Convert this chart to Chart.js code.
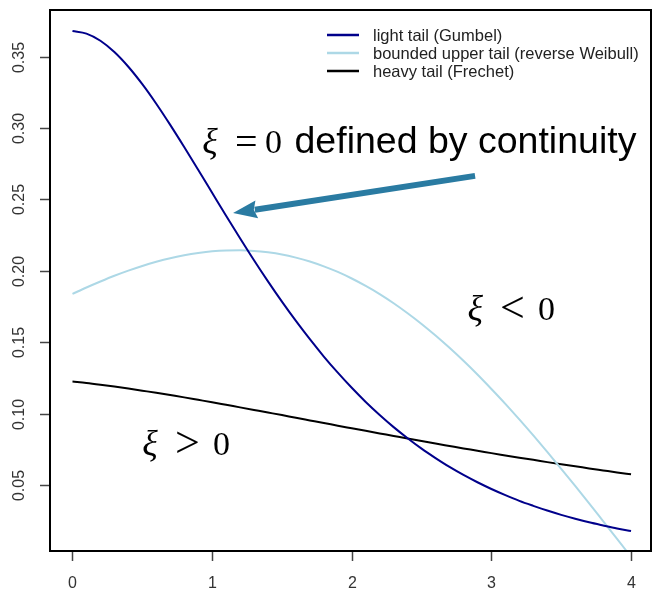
<!DOCTYPE html>
<html>
<head>
<meta charset="utf-8">
<script src="https://cdn.jsdelivr.net/npm/chart.js@4/dist/chart.umd.min.js"></script>
<style>
  html, body { margin: 0; padding: 0; background: #fff; overflow: hidden; }
  #wrap { width: 652px; height: 590px; }
</style>
</head>
<body>
<div id="wrap"><canvas id="c" width="652" height="590"></canvas></div>
<script>
// GEV densities evaluated on x = 0 .. 4
const xs = [0,0.1,0.2,0.3,0.4,0.5,0.6,0.7,0.8,0.9,1,1.1,1.2,1.3,1.4,1.5,1.6,1.7,1.8,1.9,2,
            2.1,2.2,2.3,2.4,2.5,2.6,2.7,2.8,2.9,3,3.1,3.2,3.3,3.4,3.5,3.6,3.7,3.8,3.9,4];

const gumbel = [0.3679,0.3661,0.3611,0.3532,0.3429,0.3307,0.3170,0.3022,0.2867,0.2708,0.2547,
                0.2386,0.2229,0.2075,0.1927,0.1785,0.1650,0.1522,0.1401,0.1288,0.1182,
                0.1083,0.0992,0.0907,0.0829,0.0756,0.0690,0.0628,0.0572,0.0521,0.0474,
                0.0431,0.0391,0.0356,0.0323,0.0293,0.0266,0.0241,0.0219,0.0198,0.0180];

const reverseWeibull = [0.1839,0.1884,0.1926,0.1966,0.2002,0.2035,0.2064,0.2089,0.2109,0.2125,0.2137,
                        0.2143,0.2144,0.2140,0.2130,0.2115,0.2093,0.2066,0.2032,0.1993,0.1947,
                        0.1895,0.1838,0.1774,0.1704,0.1629,0.1548,0.1462,0.1371,0.1275,0.1174,
                        0.1070,0.0961,0.0849,0.0733,0.0615,0.0495,0.0373,0.0249,0.0125,0.0000];

const frechet = [0.1226,0.1216,0.1204,0.1191,0.1177,0.1162,0.1147,0.1131,0.1115,0.1098,0.1081,
                 0.1063,0.1045,0.1027,0.1009,0.0991,0.0972,0.0954,0.0936,0.0917,0.0899,
                 0.0881,0.0863,0.0845,0.0827,0.0810,0.0792,0.0775,0.0758,0.0742,0.0725,
                 0.0709,0.0693,0.0678,0.0662,0.0647,0.0633,0.0618,0.0604,0.0590,0.0577];

const xTicks = [0, 1, 2, 3, 4];
const yTicks = [0.05, 0.10, 0.15, 0.20, 0.25, 0.30, 0.35];
const yTickLabels = ['0.05', '0.10', '0.15', '0.20', '0.25', '0.30', '0.35'];

const seriesNames = ['light tail (Gumbel)', 'bounded upper tail (reverse Weibull)', 'heavy tail (Frechet)'];
const seriesColors = ['#00008b', '#add8e6', '#000000'];

const toPoints = ys => xs.map((x, i) => ({ x: x, y: ys[i] }));

const SANS = '"Liberation Sans", Arial, sans-serif';
const SERIF = '"Liberation Serif", "Times New Roman", serif';

// Frame, axes, ticks, legend and annotations drawn against the chart's scales
const framePlugin = {
  id: 'frame',
  afterDatasetsDraw(chart) {
    const ctx = chart.ctx;
    const a = chart.chartArea;
    const sx = chart.scales.x, sy = chart.scales.y;
    ctx.save();

    // box
    ctx.strokeStyle = '#000';
    ctx.lineWidth = 2;
    ctx.strokeRect(a.left, a.top, a.right - a.left, a.bottom - a.top);

    // x axis ticks + labels
    ctx.strokeStyle = '#444';
    ctx.lineWidth = 1.5;
    ctx.fillStyle = '#333';
    ctx.font = '16px ' + SANS;
    ctx.textAlign = 'center';
    ctx.textBaseline = 'middle';
    xTicks.forEach(v => {
      const px = Math.round(sx.getPixelForValue(v)) + 0.5;
      ctx.beginPath();
      ctx.moveTo(px, a.bottom + 1);
      ctx.lineTo(px, a.bottom + 10);
      ctx.stroke();
      ctx.fillText(String(v), px, a.bottom + 33);
    });

    // y axis ticks + rotated labels
    yTicks.forEach((v, i) => {
      const py = Math.round(sy.getPixelForValue(v)) + 0.5;
      ctx.beginPath();
      ctx.moveTo(a.left - 10, py);
      ctx.lineTo(a.left - 1, py);
      ctx.stroke();
      ctx.save();
      ctx.translate(a.left - 30, py);
      ctx.rotate(-Math.PI / 2);
      ctx.fillText(yTickLabels[i], 0, 0);
      ctx.restore();
    });

    // legend
    ctx.font = '16.5px ' + SANS;
    ctx.textAlign = 'left';
    ctx.textBaseline = 'middle';
    const legendRows = [35, 53, 71];
    seriesNames.forEach((name, i) => {
      const y = legendRows[i];
      ctx.strokeStyle = seriesColors[i];
      ctx.lineWidth = 2.5;
      ctx.beginPath();
      ctx.moveTo(327, y);
      ctx.lineTo(359, y);
      ctx.stroke();
      ctx.fillStyle = '#222';
      ctx.fillText(name, 373, y + 1);
    });

    // annotations: each part placed at its own data x on a shared baseline
    ctx.fillStyle = '#000';
    ctx.textBaseline = 'alphabetic';
    const mathLabel = (y, parts) => {
      const cy = sy.getPixelForValue(y);
      parts.forEach(p => {
        ctx.font = p.font;
        ctx.fillText(p.text, sx.getPixelForValue(p.x), cy + (p.dy || 0));
      });
    };
    const XI = 'italic 36px ' + SERIF;
    const REL = '44px ' + SERIF;
    const NUM = '34px ' + SERIF;
    mathLabel(0.2825, [
      { text: 'ξ', x: 0.930, font: XI },
      { text: '=', x: 1.163, font: '40px ' + SERIF, dy: 2 },
      { text: '0', x: 1.378, font: NUM },
      { text: 'defined by continuity', x: 1.590, font: '37.5px ' + SANS }
    ]);
    mathLabel(0.1657, [
      { text: 'ξ', x: 2.828, font: XI },
      { text: '<', x: 3.061, font: REL, dy: 2 },
      { text: '0', x: 3.333, font: NUM }
    ]);
    mathLabel(0.0712, [
      { text: 'ξ', x: 0.500, font: XI },
      { text: '>', x: 0.734, font: REL, dy: 2 },
      { text: '0', x: 1.006, font: NUM }
    ]);

    // arrow pointing at the Gumbel curve
    const tx = sx.getPixelForValue(2.883), ty = sy.getPixelForValue(0.2665);
    const hx = sx.getPixelForValue(1.150), hy = sy.getPixelForValue(0.2405);
    const ang = Math.atan2(hy - ty, hx - tx);
    const headLen = 24, headHalf = 9;
    const bx = hx - headLen * Math.cos(ang), by = hy - headLen * Math.sin(ang);
    ctx.strokeStyle = '#2a7ba2';
    ctx.fillStyle = '#2a7ba2';
    ctx.lineWidth = 6;
    ctx.lineCap = 'butt';
    ctx.beginPath();
    ctx.moveTo(tx, ty);
    ctx.lineTo(bx + 2 * Math.cos(ang), by + 2 * Math.sin(ang));
    ctx.stroke();
    ctx.beginPath();
    ctx.moveTo(hx, hy);
    ctx.lineTo(bx + headHalf * Math.sin(ang), by - headHalf * Math.cos(ang));
    ctx.lineTo(bx + 3 * Math.cos(ang), by + 3 * Math.sin(ang));
    ctx.lineTo(bx - headHalf * Math.sin(ang), by + headHalf * Math.cos(ang));
    ctx.closePath();
    ctx.fill();

    ctx.restore();
  }
};

new Chart(document.getElementById('c'), {
  type: 'line',
  data: {
    datasets: [
      { label: seriesNames[0], data: toPoints(gumbel), borderColor: seriesColors[0] },
      { label: seriesNames[1], data: toPoints(reverseWeibull), borderColor: seriesColors[1] },
      { label: seriesNames[2], data: toPoints(frechet), borderColor: seriesColors[2] }
    ]
  },
  options: {
    responsive: false,
    animation: false,
    layout: { padding: { left: 50, top: 10, right: 1, bottom: 39 } },
    elements: {
      point: { radius: 0 },
      line: { borderWidth: 2, tension: 0.3, cubicInterpolationMode: 'monotone' }
    },
    scales: {
      x: { type: 'linear', min: -0.161, max: 4.143, display: false },
      y: { type: 'linear', min: 0.004, max: 0.3826, display: false }
    },
    plugins: { legend: { display: false }, tooltip: { enabled: false } }
  },
  plugins: [framePlugin]
});
</script>
</body>
</html>
